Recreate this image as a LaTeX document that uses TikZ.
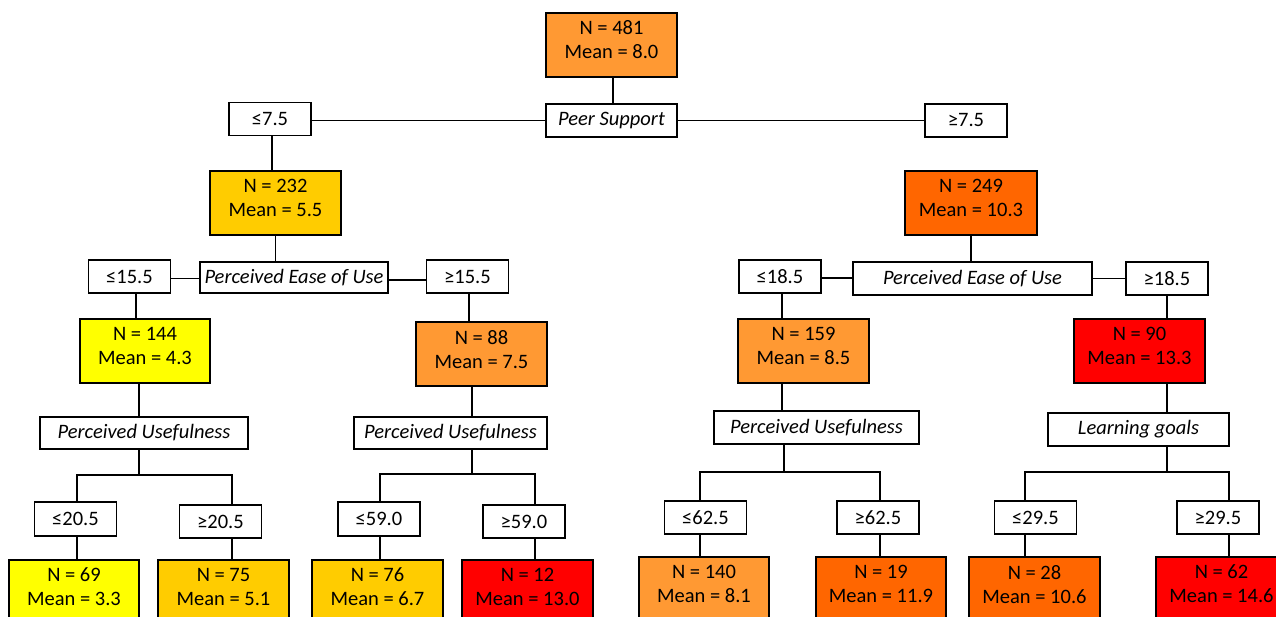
\documentclass[tikz,border=0pt]{standalone}
\usepackage{fontspec}
\setmainfont{Carlito}
\definecolor{cOrange}{HTML}{FF9933}
\definecolor{cGold}{HTML}{FFCC00}
\definecolor{cYellow}{HTML}{FFFF00}
\definecolor{cDark}{HTML}{FF6600}
\definecolor{cRed}{HTML}{FF0000}
\tikzset{
  bx/.style={draw, line width=1.4pt, inner sep=0pt, align=center, font=\fontsize{20.5}{24}\selectfont},
  stat/.style={bx, minimum width=131pt, minimum height=64pt, text depth=10pt},
  cut/.style={bx, fill=white, minimum width=82pt, minimum height=33pt},
  var/.style={bx, fill=white, minimum height=32pt, font=\fontsize{20.5}{24}\selectfont\itshape},
  conn/.style={line width=1.4pt}
}
\begin{document}
\begin{tikzpicture}[x=1pt,y=-1pt]
\useasboundingbox (0,0) rectangle (1276,617);
\clip (0,0) rectangle (1276,617);
\fill[white] (0,0) rectangle (1276,617);
% level 0
\node[stat, fill=cOrange] (root) at (611.5,45) {N = 481\\Mean = 8.0};
\node[var, minimum width=131pt, minimum height=33pt] (ps) at (611.5,120.5) {Peer Support};
\node[cut] (le1) at (270,119) {≤7.5};
\node[cut] (ge1) at (966,120.5) {≥7.5};
% level 1
\node[stat, fill=cGold] (n232) at (275.5,203) {N = 232\\Mean = 5.5};
\node[stat, fill=cDark, minimum width=132pt] (n249) at (971,203) {N = 249\\Mean = 10.3};
\node[var, minimum width=188pt, minimum height=31pt] (peouL) at (294,277.5) {Perceived Ease of Use};
\node[cut] (le15) at (129.5,276.5) {≤15.5};
\node[cut] (ge15) at (467.5,276.5) {≥15.5};
\node[var, minimum width=239pt, minimum height=33pt] (peouR) at (972.5,278.5) {Perceived Ease of Use};
\node[cut] (le18) at (780,276.5) {≤18.5};
\node[cut] (ge18) at (1167,278.5) {≥18.5};
% level 2
\node[stat, fill=cYellow, minimum width=130pt] (n144) at (145,351) {N = 144\\Mean = 4.3};
\node[stat, fill=cOrange] (n88) at (481.5,354) {N = 88\\Mean = 7.5};
\node[stat, fill=cOrange] (n159) at (803.5,351) {N = 159\\Mean = 8.5};
\node[stat, fill=cRed] (n90) at (1139.5,351) {N = 90\\Mean = 13.3};
\node[var, minimum width=208pt] (pu1) at (144,433) {Perceived Usefulness};
\node[var, minimum width=193pt] (pu2) at (450.5,433) {Perceived Usefulness};
\node[var, minimum width=205pt, minimum height=33pt] (pu3) at (816.5,427.5) {Perceived Usefulness};
\node[var, minimum width=181pt, minimum height=33pt] (lg) at (1138.5,429.5) {Learning goals};
% cut boxes level 3
\node[cut, minimum height=34pt] (le20) at (75.5,519) {≤20.5};
\node[cut] (ge20) at (220.5,521.5) {≥20.5};
\node[cut, minimum height=34pt] (le59) at (379,519) {≤59.0};
\node[cut] (ge59) at (524,521.5) {≥59.0};
\node[cut] (le62) at (705.5,517.5) {≤62.5};
\node[cut] (ge62) at (878,517.5) {≥62.5};
\node[cut] (le29) at (1035.5,517.5) {≤29.5};
\node[cut] (ge29) at (1218,517.5) {≥29.5};
% leaves
\node[stat, fill=cYellow, minimum width=130pt] (n69) at (74,592) {N = 69\\Mean = 3.3};
\node[stat, fill=cGold] (n75) at (223.5,592) {N = 75\\Mean = 5.1};
\node[stat, fill=cGold] (n76) at (377.5,592) {N = 76\\Mean = 6.7};
\node[stat, fill=cRed] (n12) at (527.5,592) {N = 12\\Mean = 13.0};
\node[stat, fill=cOrange, minimum width=130pt] (n140) at (704,589) {N = 140\\Mean = 8.1};
\node[stat, fill=cDark, minimum width=130pt] (n19) at (881,589) {N = 19\\Mean = 11.9};
\node[stat, fill=cDark] (n28) at (1034.5,589) {N = 28\\Mean = 10.6};
\node[stat, fill=cRed] (n62) at (1221.5,589) {N = 62\\Mean = 14.6};
% fork coordinates
\coordinate (f1) at (139,475);
\coordinate (f1a) at (77,475);
\coordinate (f1b) at (232,475);
\coordinate (f2) at (472,474);
\coordinate (f2a) at (380,474);
\coordinate (f2b) at (535,474);
\coordinate (f3) at (784,472);
\coordinate (f3a) at (700,472);
\coordinate (f3b) at (880,472);
\coordinate (f4) at (1167,472);
\coordinate (f4a) at (1025,472);
\coordinate (f4b) at (1229,472);
% connectors
\draw[conn] ([xshift=1.5pt]root.south) -- ([xshift=1.5pt]ps.north);
\draw[conn] (ps.west) -- (ps.west -| le1.east);
\draw[conn] (ps.east) -- (ps.east -| ge1.west);
\draw[conn] ([xshift=2pt]le1.south) -- ([xshift=2pt]le1.south |- n232.north);
\draw[conn] (n232.south) -- (n232.south |- peouL.north);
\draw[conn] ([yshift=-2pt]le15.east) -- ([yshift=-2pt]le15.east -| peouL.west);
\draw[conn] ([yshift=-2.5pt]peouL.east) -- ([yshift=-2.5pt]peouL.east -| ge15.west);
\draw[conn] (n249.south) -- (n249.south |- peouR.north);
\draw[conn] ([yshift=-1.5pt]le18.east) -- ([yshift=-1.5pt]le18.east -| peouR.west);
\draw[conn] (peouR.east) -- (peouR.east -| ge18.west);
\draw[conn] ([xshift=6.5pt]le15.south) -- ([xshift=6.5pt]le15.south |- n144.north);
\draw[conn] ([xshift=1.5pt]ge15.south) -- ([xshift=1.5pt]ge15.south |- n88.north);
\draw[conn] ([xshift=2pt]le18.south) -- ([xshift=2pt]le18.south |- n159.north);
\draw[conn] (ge18.south) -- (ge18.south |- n90.north);
\draw[conn] ([xshift=-6pt]n144.south) -- ([xshift=-6pt]n144.south |- pu1.north);
\draw[conn] ([xshift=-9.5pt]n88.south) -- ([xshift=-9.5pt]n88.south |- pu2.north);
\draw[conn] ([xshift=-21.5pt]n159.south) -- ([xshift=-21.5pt]n159.south |- pu3.north);
\draw[conn] ([xshift=27.5pt]n90.south) -- ([xshift=27.5pt]n90.south |- lg.north);
% forks
\draw[conn] (pu1.south -| f1) -- (f1);
\draw[conn] (f1a |- le20.north) -- (f1a) -- (f1b) -- (f1b |- ge20.north);
\draw[conn] (pu2.south -| f2) -- (f2);
\draw[conn] (f2a |- le59.north) -- (f2a) -- (f2b) -- (f2b |- ge59.north);
\draw[conn] (pu3.south -| f3) -- (f3);
\draw[conn] (f3a |- le62.north) -- (f3a) -- (f3b) -- (f3b |- ge62.north);
\draw[conn] (lg.south -| f4) -- (f4);
\draw[conn] (f4a |- le29.north) -- (f4a) -- (f4b) -- (f4b |- ge29.north);
% leaf connectors
\draw[conn] (le20.south -| f1a) -- (n69.north -| f1a);
\draw[conn] (ge20.south -| f1b) -- (n75.north -| f1b);
\draw[conn] (le59.south -| f2a) -- (n76.north -| f2a);
\draw[conn] (ge59.south -| f2b) -- (n12.north -| f2b);
\draw[conn] (le62.south -| f3a) -- (n140.north -| f3a);
\draw[conn] (ge62.south -| f3b) -- (n19.north -| f3b);
\draw[conn] (le29.south -| f4a) -- (n28.north -| f4a);
\draw[conn] (ge29.south -| f4b) -- (n62.north -| f4b);
\end{tikzpicture}
\end{document}
